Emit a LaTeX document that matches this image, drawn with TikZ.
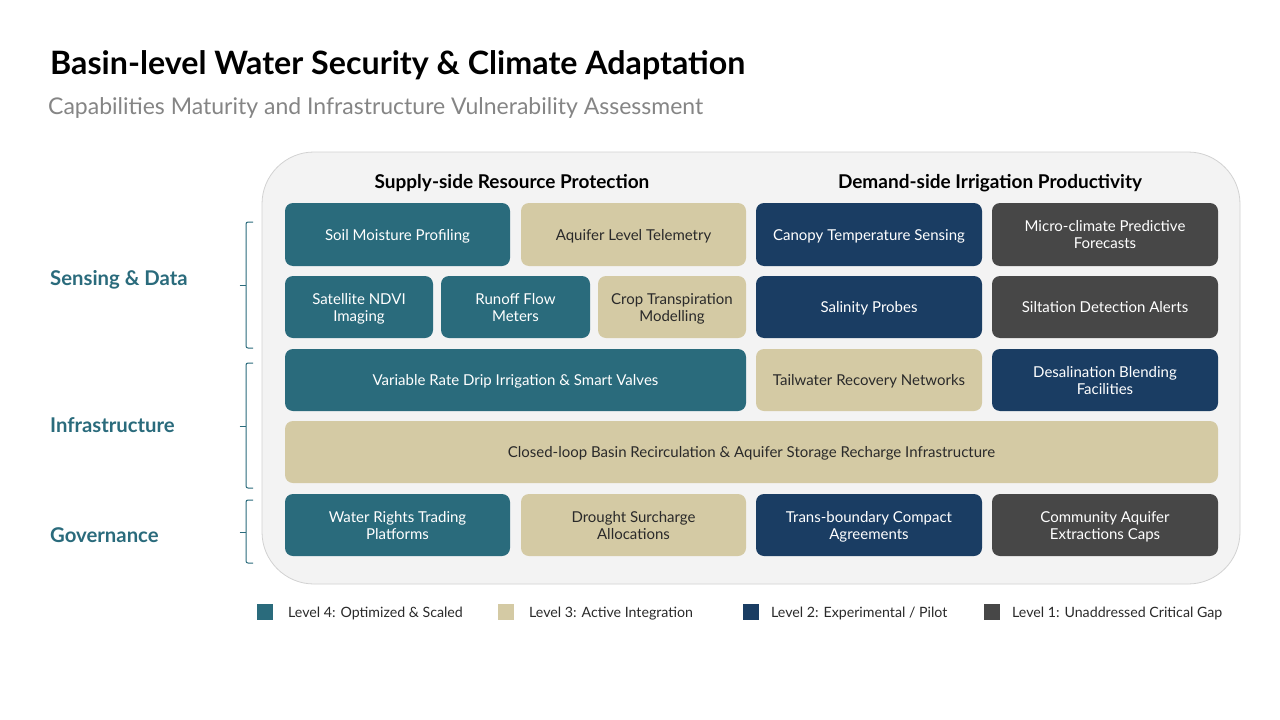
\documentclass[tikz,border=0pt]{standalone}
\usepackage{fontspec}
\setmainfont{Lato}
\definecolor{lvfour}{HTML}{2A6B7C}
\definecolor{lvthree}{HTML}{D4CAA4}
\definecolor{lvtwo}{HTML}{1A3D63}
\definecolor{lvone}{HTML}{474747}
\definecolor{panelfill}{HTML}{F3F3F3}
\definecolor{panelline}{HTML}{D2D2D2}
\definecolor{subgray}{HTML}{858585}
\definecolor{darktext}{HTML}{2A2A2A}
\tikzset{
  cell/.style={rounded corners=8pt, inner sep=0pt,
    font=\fontsize{15}{17}\selectfont},
  lfour/.style={cell, fill=lvfour, text=white},
  lthree/.style={cell, fill=lvthree, text=darktext},
  ltwo/.style={cell, fill=lvtwo, text=white},
  lone/.style={cell, fill=lvone, text=white},
  rowlabel/.style={anchor=base west, inner sep=0pt, text=lvfour, font=\fontsize{20.3}{22}\bfseries\selectfont},
  colhead/.style={font=\fontsize{19}{21}\bfseries\selectfont, text=black},
  bracket/.style={draw=lvfour, line width=1pt},
  swatch/.style={minimum size=16pt, inner sep=0pt},
  legtext/.style={anchor=base west, inner sep=0pt, font=\fontsize{14.2}{16}\selectfont, text=darktext}
}
% a cell given by its corners (x1,y1) and (x2,y2); the text is lowered to sit on the cap-height middle
\newcommand{\cellat}[7]{%
  \node[#1, minimum width={#4-#2}, minimum height={#5-#3}] (#6)
    at ({(#2+#4)/2},{(#3+#5)/2})
    {\raisebox{-2.5pt}[\height][\depth]{\begin{tabular}{@{}c@{}}#7\end{tabular}}};}
\begin{document}
\begin{tikzpicture}[x=1pt,y=-1pt]
\useasboundingbox (0,0) rectangle (1280,720);
\fill[white] (0,0) rectangle (1280,720);

% titles
\node[anchor=base west, inner sep=0pt, font=\fontsize{32.2}{36}\bfseries\selectfont] (title) at (50,74)
  {Basin-level Water Security \& Climate Adaptation};
\node[anchor=base west, inner sep=0pt, text=subgray, font=\fontsize{23}{26}\selectfont] (subtitle) at (48,114)
  {Capabilities Maturity and Infrastructure Vulnerability Assessment};

% panel
\draw[fill=panelfill, draw=panelline, line width=0.8pt, rounded corners=52pt]
  (262,152) rectangle (1240,584);

% column headers
\node[colhead] (supply) at (512,183) {Supply-side Resource Protection};
\node[colhead] (demand) at (990,183) {Demand-side Irrigation Productivity};

% row 1
\cellat{lfour}{285}{203}{510}{266}{soil}{Soil Moisture Profiling}
\cellat{lthree}{521}{203}{746}{266}{aquifer}{Aquifer Level Telemetry}
\cellat{ltwo}{756}{203}{982}{266}{canopy}{Canopy Temperature Sensing}
\cellat{lone}{992}{203}{1218}{266}{micro}{Micro-climate Predictive\\Forecasts}
% row 2
\cellat{lfour}{285}{276}{433}{338}{ndvi}{Satellite NDVI\\Imaging}
\cellat{lfour}{441}{276}{590}{338}{runoff}{Runoff Flow\\Meters}
\cellat{lthree}{598}{276}{746}{338}{crop}{Crop Transpiration\\Modelling}
\cellat{ltwo}{756}{276}{982}{338}{salinity}{Salinity Probes}
\cellat{lone}{992}{276}{1218}{338}{silt}{Siltation Detection Alerts}
% row 3
\cellat{lfour}{285}{349}{746}{411}{drip}{Variable Rate Drip Irrigation \& Smart Valves}
\cellat{lthree}{756}{349}{982}{411}{tail}{Tailwater Recovery Networks}
\cellat{ltwo}{992}{349}{1218}{411}{desal}{Desalination Blending\\Facilities}
% row 4
\cellat{lthree}{285}{421}{1218}{483}{closed}{Closed-loop Basin Recirculation \& Aquifer Storage Recharge Infrastructure}
% row 5
\cellat{lfour}{285}{494}{510}{556}{rights}{Water Rights Trading\\Platforms}
\cellat{lthree}{521}{494}{746}{556}{drought}{Drought Surcharge\\Allocations}
\cellat{ltwo}{756}{494}{982}{556}{trans}{Trans-boundary Compact\\Agreements}
\cellat{lone}{992}{494}{1218}{556}{community}{Community Aquifer\\Extractions Caps}

% row labels
\node[rowlabel] (sensing) at (50,285) {Sensing \& Data};
\node[rowlabel] (infra) at (50,432) {Infrastructure};
\node[rowlabel] (gov) at (50,542) {Governance};

% brackets
\draw[bracket, rounded corners=2pt] (253,222) -- (246,222) -- (246,348) -- (253,348);
\draw[bracket] (239.5,285) -- (246,285);
\draw[bracket, rounded corners=2pt] (253,363) -- (246,363) -- (246,488) -- (253,488);
\draw[bracket] (239.5,426) -- (246,426);
\draw[bracket, rounded corners=2pt] (253,500) -- (246,500) -- (246,563) -- (253,563);
\draw[bracket] (239.5,532) -- (246,532);

% legend
\node[swatch, fill=lvfour] (sw4) at (265,612) {};
\node[legtext] (lg4) at (288,617) {Level 4: Optimized \& Scaled};
\node[swatch, fill=lvthree] (sw3) at (506,612) {};
\node[legtext] (lg3) at (529,617) {Level 3: Active Integration};
\node[swatch, fill=lvtwo] (sw2) at (751,612) {};
\node[legtext] (lg2) at (771,617) {Level 2: Experimental / Pilot};
\node[swatch, fill=lvone] (sw1) at (992,612) {};
\node[legtext] (lg1) at (1012,617) {Level 1: Unaddressed Critical Gap};
\end{tikzpicture}
\end{document}
